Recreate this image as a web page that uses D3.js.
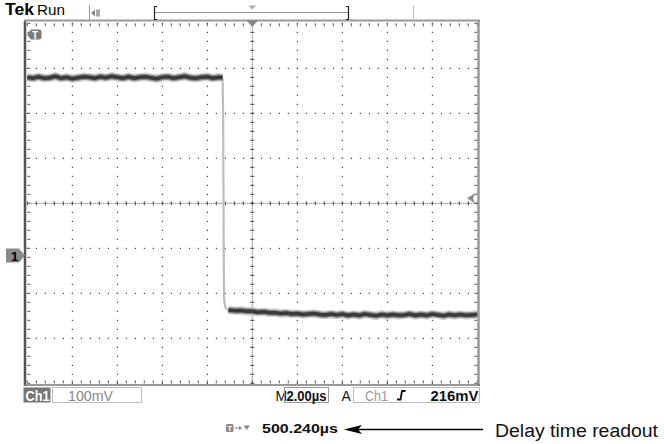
<!DOCTYPE html>
<html><head><meta charset="utf-8">
<script src="https://cdn.jsdelivr.net/npm/d3@7/dist/d3.min.js"></script>
<style>
html,body{margin:0;padding:0;background:#fff;}
svg{display:block;}
text{font-family:"Liberation Sans",Arial,sans-serif;}
</style></head>
<body>
<svg id="c" width="664" height="444"></svg>
<script>
// ---- data (time in µs relative to trigger, voltage in mV relative to ground marker) ----
const highTimes = [-10.0,-9.75,-9.5,-9.25,-9.0,-8.75,-8.5,-8.25,-8.0,-7.75,-7.5,-7.25,-7.0,-6.75,-6.5,-6.25,-6.0,-5.75,-5.5,-5.25,-5.0,-4.75,-4.5,-4.25,-4.0,-3.75,-3.5,-3.25,-3.0,-2.75,-2.5,-2.25,-2.0,-1.75,-1.5,-1.32];
const highValues = [396,394,397,394,395,398,394,396,393,395,397,396,394,397,395,398,396,394,397,394,396,397,395,393,396,397,394,396,398,395,394,396,397,394,396,395];
const edgeTimes = [-1.32,-1.29,-1.275,-1.262,-1.25,-1.22,-1.16,-1.06];
const edgeValues = [395,250,60,-60,-95,-110,-118,-121];
const lowTimes = [-1.06,-0.75,-0.5,-0.25,0,0.25,0.5,0.75,1.0,1.25,1.5,1.75,2.0,2.25,2.5,2.75,3.0,3.25,3.5,3.75,4.0,4.25,4.5,4.75,5.0,5.25,5.5,5.75,6.0,6.25,6.5,6.75,7.0,7.25,7.5,7.75,8.0,8.25,8.5,8.75,9.0,9.25,9.5,9.75,10.0];
const lowValues = [-121,-123,-122,-124,-124,-126,-125,-127,-127,-129,-128,-130,-129,-131,-130,-129,-131,-132,-130,-132,-130,-133,-131,-133,-130,-132,-134,-131,-133,-131,-133,-132,-130,-133,-131,-133,-130,-132,-134,-131,-133,-131,-133,-132,-131];
const triggerLevelMarker = 127;   // mV, right-edge arrow
const groundLevel = 0;            // mV, channel 1 marker
const timeRange = [-10, 10];      // µs (2.00 µs/div)
const voltRange = [-284, 516];    // mV (100 mV/div)
const xMajor = [-10,-8,-6,-4,-2,0,2,4,6,8,10];
const yMajor = [-284,-184,-84,16,116,216,316,416,516];
const readoutCh = "Ch1", readoutVolts = "100mV", readoutTime = "2.00µs";
const readoutTrigSrc = "Ch1", readoutTrigLevel = "216mV";
const delayReadout = "500.240µs", annotation = "Delay time readout";

const svg = d3.select("#c");
const x = d3.scaleLinear().domain(timeRange).range([27.3, 477.3]);
const y = d3.scaleLinear().domain(voltRange).range([383.3, 23.3]);
const minorX = d3.range(timeRange[0], timeRange[1] + 0.001, 0.4);
const minorY = d3.range(voltRange[0], voltRange[1] + 0.001, 20);
const cx = x(0), cy = y(116);

// ---- graticule ----
const g = svg.append("g");
xMajor.slice(1, -1).forEach(t => {
  if (t === 0) return;
  minorY.forEach(v => g.append("rect").attr("x", x(t) - 0.5).attr("y", y(v) - 0.5).attr("width", 1.2).attr("height", 1.2).attr("fill", "#444"));
});
yMajor.slice(1, -1).forEach(v => {
  if (v === 116) return;
  minorX.forEach(t => g.append("rect").attr("x", x(t) - 0.5).attr("y", y(v) - 0.5).attr("width", 1.2).attr("height", 1.2).attr("fill", "#444"));
});
g.append("line").attr("x1", x(timeRange[0])).attr("x2", x(timeRange[1])).attr("y1", cy).attr("y2", cy)
  .attr("stroke", "#555").attr("stroke-width", 1).attr("stroke-dasharray", "1,1");
g.append("line").attr("y1", y(voltRange[0])).attr("y2", y(voltRange[1])).attr("x1", cx).attr("x2", cx)
  .attr("stroke", "#555").attr("stroke-width", 1).attr("stroke-dasharray", "1,1");
minorX.forEach(t => g.append("line").attr("x1", x(t)).attr("x2", x(t)).attr("y1", cy - 2).attr("y2", cy + 2).attr("stroke", "#444"));
minorY.forEach(v => g.append("line").attr("y1", y(v)).attr("y2", y(v)).attr("x1", cx - 2).attr("x2", cx + 2).attr("stroke", "#444"));
minorX.forEach(t => {
  g.append("line").attr("x1", x(t)).attr("x2", x(t)).attr("y1", y(voltRange[1])).attr("y2", y(voltRange[1]) + 3).attr("stroke", "#555");
  g.append("line").attr("x1", x(t)).attr("x2", x(t)).attr("y1", y(voltRange[0])).attr("y2", y(voltRange[0]) - 3).attr("stroke", "#555");
});
minorY.forEach(v => {
  g.append("line").attr("y1", y(v)).attr("y2", y(v)).attr("x1", x(timeRange[0])).attr("x2", x(timeRange[0]) + 3).attr("stroke", "#555");
  g.append("line").attr("y1", y(v)).attr("y2", y(v)).attr("x1", x(timeRange[1])).attr("x2", x(timeRange[1]) - 3).attr("stroke", "#555");
});
g.append("line").attr("x1", 25).attr("x2", 25).attr("y1", 21).attr("y2", 386).attr("stroke", "#555").attr("stroke-width", 2.5);
g.append("line").attr("x1", 478.5).attr("x2", 478.5).attr("y1", 21).attr("y2", 386).attr("stroke", "#999").attr("stroke-width", 2.5);
g.append("line").attr("x1", 24).attr("x2", 480).attr("y1", 20.5).attr("y2", 20.5).attr("stroke", "#999").attr("stroke-width", 2);
g.append("line").attr("x1", 24).attr("x2", 480).attr("y1", 385).attr("y2", 385).attr("stroke", "#777").attr("stroke-width", 1.5);

// ---- trace ----
const line = d3.line().x(d => x(d[0])).y(d => y(d[1]));
const high = highTimes.map((t, i) => [t, highValues[i]]);
const low = lowTimes.map((t, i) => [t, lowValues[i]]);
const edge = edgeTimes.map((t, i) => [t, edgeValues[i]]);
const tr = svg.append("g");
tr.append("path").datum(edge).attr("d", line.curve(d3.curveMonotoneX)).attr("fill", "none").attr("stroke", "#bdbdbd").attr("stroke-width", 2.2);
line.curve(d3.curveLinear);
[[high], [low]].forEach(([seg]) => {
  tr.append("path").datum(seg).attr("d", line).attr("fill", "none").attr("stroke", "#d4d4d4").attr("stroke-width", 8.5);
  tr.append("path").datum(seg).attr("d", line).attr("fill", "none").attr("stroke", "#8c8c8c").attr("stroke-width", 6);
  tr.append("path").datum(seg).attr("d", line).attr("fill", "none").attr("stroke", "#3a3a3a").attr("stroke-width", 3.5);
});

// ---- markers ----
const gy = y(groundLevel);
svg.append("path").attr("d", `M6,${gy-7} L19,${gy-7} L25,${gy} L19,${gy+7} L6,${gy+7} Z`).attr("fill", "#8a8a8a");
svg.append("text").attr("x", 11).attr("y", gy + 5).attr("font-size", 13).attr("font-weight", "bold").attr("fill", "#000").text("1");
const ty = y(triggerLevelMarker);
svg.append("path").attr("d", `M467,${ty} L475,${ty-5} L473,${ty} L475,${ty+5} Z`).attr("fill", "#888");
svg.append("path").attr("d", `M${cx-6},20 L${cx+6},20 L${cx},27 Z`).attr("fill", "#888");
svg.append("path").attr("d", "M27,34.5 L31,29.5 L39,29.5 Q41.5,29.5 41.5,32 L41.5,37 Q41.5,39.5 39,39.5 L31,39.5 Z").attr("fill", "#7a7a7a");
svg.append("text").attr("x", 32).attr("y", 38.5).attr("font-size", 10).attr("font-weight", "bold").attr("fill", "#fff").text("T");

// ---- top status bar ----
svg.append("text").attr("x", 5).attr("y", 14.5).attr("font-size", 16).attr("font-weight", "bold")
  .attr("font-family", "'DejaVu Sans',sans-serif")
  .attr("textLength", 29).attr("lengthAdjust", "spacingAndGlyphs").attr("fill", "#000").text("Tek");
svg.append("text").attr("x", 37).attr("y", 14.5).attr("font-size", 15)
  .attr("textLength", 28).attr("lengthAdjust", "spacingAndGlyphs").attr("fill", "#000").text("Run");
svg.append("line").attr("x1", 89.5).attr("x2", 89.5).attr("y1", 5).attr("y2", 20).attr("stroke", "#999");
svg.append("path").attr("d", "M91,13 L95,9.5 L95,16.5 Z").attr("fill", "#888");
svg.append("rect").attr("x", 96).attr("y", 9.5).attr("width", 4).attr("height", 7).attr("fill", "#aaa");
svg.append("line").attr("x1", 155).attr("x2", 348).attr("y1", 12.5).attr("y2", 12.5).attr("stroke", "#999").attr("stroke-width", 1);
svg.append("path").attr("d", "M157,6.5 L154.5,6.5 L154.5,19.5 L157,19.5").attr("fill", "none").attr("stroke", "#222").attr("stroke-width", 1.2);
svg.append("path").attr("d", "M346,6.5 L348.5,6.5 L348.5,19.5 L346,19.5").attr("fill", "none").attr("stroke", "#222").attr("stroke-width", 1.2);
svg.append("path").attr("d", `M${cx-4},5.5 L${cx+4},5.5 L${cx},9.5 Z`).attr("fill", "#aaa");
svg.append("line").attr("x1", 413.5).attr("x2", 413.5).attr("y1", 6).attr("y2", 20).attr("stroke", "#bbb");

// ---- bottom readouts ----
const rb = svg.append("g").attr("font-size", 14);
rb.append("rect").attr("x", 23.5).attr("y", 387.5).attr("width", 27).attr("height", 15).attr("fill", "#767676");
rb.append("text").attr("x", 25.5).attr("y", 400.5).attr("fill", "#fff").attr("font-weight", "bold").attr("textLength", 24).attr("lengthAdjust", "spacingAndGlyphs").text(readoutCh);
rb.append("rect").attr("x", 52.5).attr("y", 387.5).attr("width", 89).attr("height", 15).attr("fill", "none").attr("stroke", "#bbb");
rb.append("text").attr("x", 68).attr("y", 400.5).attr("fill", "#888").attr("textLength", 45).attr("lengthAdjust", "spacingAndGlyphs").text(readoutVolts);
rb.append("text").attr("x", 275.5).attr("y", 400.5).attr("fill", "#111").text("M");
rb.append("rect").attr("x", 284.5).attr("y", 387.5).attr("width", 44).attr("height", 15).attr("fill", "none").attr("stroke", "#999");
rb.append("text").attr("x", 286.5).attr("y", 400.5).attr("fill", "#111").attr("font-weight", "bold").attr("textLength", 40).attr("lengthAdjust", "spacingAndGlyphs").text(readoutTime);
rb.append("text").attr("x", 341.5).attr("y", 400.5).attr("fill", "#111").text("A");
rb.append("rect").attr("x", 353.5).attr("y", 387.5).attr("width", 126).attr("height", 15).attr("fill", "none").attr("stroke", "#bbb");
rb.append("text").attr("x", 365).attr("y", 400.5).attr("fill", "#999").attr("textLength", 23).attr("lengthAdjust", "spacingAndGlyphs").text(readoutTrigSrc);
rb.append("path").attr("d", "M397,399.5 L400.5,399.5 L402,391 L405.5,391").attr("fill", "none").attr("stroke", "#111").attr("stroke-width", 1.8);
rb.append("text").attr("x", 430.5).attr("y", 400.5).attr("fill", "#111").attr("font-weight", "bold").attr("textLength", 48).attr("lengthAdjust", "spacingAndGlyphs").text(readoutTrigLevel);

// ---- delay readout + annotation ----
svg.append("rect").attr("x", 226).attr("y", 424).attr("width", 7.5).attr("height", 8).attr("rx", 1.5).attr("fill", "#888");
svg.append("text").attr("x", 227.3).attr("y", 431).attr("font-size", 8).attr("font-weight", "bold").attr("fill", "#fff").text("T");
svg.append("line").attr("x1", 234.5).attr("x2", 241).attr("y1", 428).attr("y2", 428).attr("stroke", "#888");
svg.append("path").attr("d", "M239,426 L242,428 L239,430 Z").attr("fill", "#888");
svg.append("path").attr("d", "M243.5,425.5 L250,425.5 L246.75,430 Z").attr("fill", "#888");
svg.append("text").attr("x", 262).attr("y", 433).attr("font-size", 12).attr("font-weight", "bold").attr("fill", "#111")
  .attr("font-family", "'DejaVu Sans Mono',monospace").attr("textLength", 76).attr("lengthAdjust", "spacingAndGlyphs").text(delayReadout);
svg.append("line").attr("x1", 358).attr("x2", 483).attr("y1", 429.5).attr("y2", 429.5).attr("stroke", "#000").attr("stroke-width", 1.6);
svg.append("path").attr("d", "M344,429.5 L362,425 L358,429.5 L362,434 Z").attr("fill", "#000");
svg.append("text").attr("x", 495).attr("y", 436.5).attr("font-size", 18).attr("fill", "#111")
  .attr("font-family", "'Liberation Sans Narrow','Liberation Sans',Arial,sans-serif")
  .attr("textLength", 163).attr("lengthAdjust", "spacingAndGlyphs").text(annotation);
</script>
</body></html>
